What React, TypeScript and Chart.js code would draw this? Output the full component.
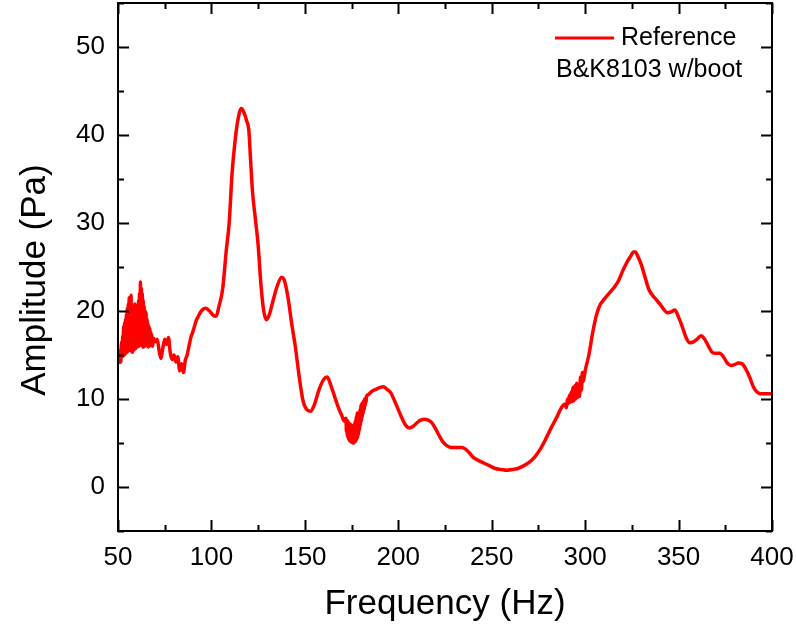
import React, { useEffect, useRef } from "react";
import { Chart, registerables } from "chart.js";

Chart.register(...registerables);

const FONT = "'Liberation Sans', Arial, sans-serif";

// Frequency (Hz) and amplitude (Pa)
const freqHz: number[] = [
  50.5, 51, 51.5, 51.75,
  52, 52.25, 52.5, 52.75, 53, 53.25, 53.5, 53.75, 54, 54.25, 54.5, 54.75, 55, 55.25, 55.5, 55.75,
  56, 56.25, 56.5, 56.75, 57, 57.25, 57.5, 57.75, 58, 58.25, 58.5, 58.75, 59, 59.25, 59.5, 59.75,
  60, 60.25, 60.5, 60.75, 61, 61.25, 61.5, 61.75, 62, 62.25, 62.5, 62.75, 63, 63.25, 63.5, 63.75,
  64, 64.25, 64.5, 64.75, 65, 65.25, 65.5, 65.75, 66, 66.25, 66.5, 66.75, 67, 67.25, 67.5, 67.75,
  68, 68.5, 69, 70, 71,
  72, 73, 74, 75, 76, 77, 78, 79, 80, 81, 82, 83, 84, 85, 86, 87, 88, 89, 90, 91,
  92, 93, 94, 95, 97, 99, 101, 102.5, 104, 106, 108, 109.5, 111, 112.5, 114, 116, 117.5, 119, 120, 121,
  122, 123.5, 125, 126.5, 128, 129.5, 131, 133, 135, 137.5, 139, 141, 143, 145, 147, 149, 151, 153, 155, 157.5,
  160, 162, 164, 166.5, 168, 170, 171,
  172, 172.25, 172.5, 172.75, 173, 173.25, 173.5, 173.75, 174, 174.25, 174.5, 174.75,
  175, 175.25, 175.5, 175.75, 176, 176.25, 176.5, 176.75, 177, 177.25, 177.5, 177.75,
  178, 178.25, 178.5, 178.75, 179, 179.25, 179.5, 179.75, 180, 180.25, 180.5, 180.75,
  181, 181.25, 181.5, 181.75, 182, 182.25, 182.5, 182.75, 183,
  184, 185, 186, 188, 190, 192, 194, 196, 198, 200, 202, 204, 206, 208, 210, 212, 214, 216, 218, 220,
  222, 224, 226, 228, 230, 232, 234, 236, 238, 240, 243, 246, 249, 252, 255, 258, 261, 264, 267, 270,
  273, 276, 279, 282, 285, 287, 289,
  290, 290.5, 291, 291.5, 292, 292.5, 293, 293.5, 294, 294.5, 295, 295.5, 296, 296.5, 297, 297.5, 298, 298.5, 299,
  300, 302, 304, 306, 308, 310, 312, 314, 316, 318, 320, 322, 324, 326, 327, 328, 330, 332, 334, 336,
  338, 340, 342, 344, 346, 348, 350, 352, 354, 356, 358, 360, 362, 364, 366, 368, 370, 372, 374, 376,
  378, 380, 382, 384, 386, 388, 390, 392, 394, 397, 400,
];

const amplitudePa: number[] = [
  14.0, 15.5, 14.2, 16.0,
  16.5, 14.8, 17.2, 14.9, 18.2, 15.0, 18.6, 15.1, 19.0, 15.2, 19.6, 15.3, 20.3, 15.4, 20.8, 15.5,
  21.5, 15.6, 21.0, 15.5, 21.8, 15.4, 20.4, 15.3, 19.5, 15.5, 20.1, 15.6, 20.8, 15.7, 19.9, 15.8,
  20.2, 15.9, 20.7, 16.0, 21.2, 16.0, 22.0, 16.1, 23.3, 16.2, 22.6, 16.1, 22.0, 15.9, 21.2, 15.9,
  20.5, 16.0, 20.0, 16.1, 19.8, 16.1, 19.1, 16.0, 18.6, 15.9, 18.3, 16.0, 18.0, 16.2, 17.6, 16.1,
  17.3, 16.0, 16.9, 16.5, 16.8,
  15.5, 14.6, 15.8, 16.8, 16.2, 17.0, 15.2, 14.5, 15.0, 14.2, 14.8, 13.2, 14.0, 13.0, 14.4, 15.0, 16.0, 17.0, 17.6, 18.3,
  19.0, 19.4, 19.8, 20.1, 20.3, 20.0, 19.5, 19.4, 20.5, 22.5, 27.0, 30.0, 35.5, 39.0, 41.5, 43.0, 42.5, 41.5, 40.6, 37.0,
  33.5, 30.5, 27.5, 23.0, 20.0, 19.0, 19.6, 21.2, 22.7, 23.8, 23.5, 21.5, 18.5, 15.8, 12.5, 9.8, 8.8, 8.6, 9.3, 11.0,
  12.2, 12.5, 11.5, 9.9, 9.0, 8.0, 7.5,
  7.8, 6.3, 7.6, 5.8, 7.5, 5.5, 7.3, 5.3, 7.2, 5.2, 7.1, 5.1,
  7.0, 5.1, 6.9, 5.0, 6.8, 5.0, 7.2, 5.1, 7.5, 5.2, 8.0, 5.4,
  8.4, 5.6, 8.3, 6.0, 8.2, 6.5, 8.8, 7.0, 9.3, 7.5, 9.5, 8.0,
  9.6, 8.4, 9.8, 8.8, 10.0, 9.2, 10.1, 9.6, 10.3,
  10.5, 10.7, 10.9, 11.1, 11.3, 11.4, 11.1, 10.7, 9.8, 8.8, 7.8, 7.0, 6.7, 6.9, 7.3, 7.6, 7.7, 7.6, 7.3, 6.6,
  5.8, 5.1, 4.7, 4.5, 4.5, 4.5, 4.5, 4.3, 3.9, 3.4, 3.0, 2.7, 2.4, 2.1, 2.0, 1.9, 2.0, 2.1, 2.4, 2.8,
  3.4, 4.3, 5.5, 6.8, 8.0, 8.9, 9.4,
  9.0, 10.0, 9.5, 10.4, 9.6, 10.8, 9.7, 11.3, 9.8, 11.5, 10.0, 11.8, 10.2, 11.6, 10.3, 12.5, 11.0, 13.0, 12.0,
  13.2, 15.0, 17.5, 19.5, 20.7, 21.3, 21.8, 22.3, 22.8, 23.5, 24.5, 25.4, 26.1, 26.7, 26.7, 26.3, 25.3, 23.9, 22.5, 21.8,
  21.3, 20.8, 20.2, 19.8, 19.9, 20.1, 19.3, 18.2, 17.0, 16.4, 16.5, 16.8, 17.2, 16.8, 16.0, 15.3, 15.2, 15.2, 14.8, 14.1,
  13.8, 13.9, 14.1, 14.0, 13.4, 12.5, 11.4, 10.8, 10.6, 10.6, 10.6,
];

const xTicks: number[] = [50, 100, 150, 200, 250, 300, 350, 400];
const xMinorTicks: number[] = [75, 125, 175, 225, 275, 325, 375];
const yTicks: number[] = [0, 10, 20, 30, 40, 50];
const yMinorTicks: number[] = [-5, 5, 15, 25, 35, 45, 55];

const seriesLabel = "Reference";
const noteLabel = "B&K8103 w/boot";
const xTitle = "Frequency (Hz)";
const yTitle = "Amplitude (Pa)";

const framePlugin = {
  id: "frame",
  afterDraw(chart: any) {
    const ctx = chart.ctx;
    const { left, right, top, bottom } = chart.chartArea;
    const xs = chart.scales.x;
    const ys = chart.scales.y;
    ctx.save();
    ctx.strokeStyle = "#000";
    ctx.lineWidth = 2;
    ctx.strokeRect(left, top, right - left, bottom - top);
    const major = 11;
    const minor = 6;
    ctx.beginPath();
    const xt = (v: number, len: number) => {
      const p = Math.round(xs.getPixelForValue(v)) + 0.5;
      ctx.moveTo(p, bottom);
      ctx.lineTo(p, bottom - len);
      ctx.moveTo(p, top);
      ctx.lineTo(p, top + len);
    };
    const yt = (v: number, len: number) => {
      const p = Math.round(ys.getPixelForValue(v)) + 0.5;
      ctx.moveTo(left, p);
      ctx.lineTo(left + len, p);
      ctx.moveTo(right, p);
      ctx.lineTo(right - len, p);
    };
    xTicks.forEach((v) => xt(v, major));
    xMinorTicks.forEach((v) => xt(v, minor));
    yTicks.forEach((v) => yt(v, major));
    yMinorTicks.forEach((v) => yt(v, minor));
    ctx.stroke();

    // axis titles
    ctx.fillStyle = "#000";
    ctx.font = `35px ${FONT}`;
    ctx.textAlign = "center";
    ctx.textBaseline = "middle";
    ctx.fillText(xTitle, (left + right) / 2, 604);
    ctx.save();
    ctx.translate(35, 280);
    ctx.rotate(-Math.PI / 2);
    ctx.fillText(yTitle, 0, 0);
    ctx.restore();

    // legend
    ctx.strokeStyle = "#ff0000";
    ctx.lineWidth = 3;
    ctx.beginPath();
    ctx.moveTo(555, 38);
    ctx.lineTo(614, 38);
    ctx.stroke();
    ctx.font = `25px ${FONT}`;
    ctx.textAlign = "left";
    ctx.textBaseline = "middle";
    ctx.fillText(seriesLabel, 621, 38);
    ctx.fillText(noteLabel, 556, 70);
    ctx.restore();
  },
};

const zeroPad = (s: any) => {
  s.paddingTop = 0;
  s.paddingBottom = 0;
  s.paddingLeft = 0;
  s.paddingRight = 0;
};

export default function App() {
  const ref = useRef<HTMLCanvasElement>(null);
  useEffect(() => {
    if (!ref.current) return;
    const points = freqHz.map((f, i) => ({ x: f, y: amplitudePa[i] }));
    const chart = new Chart(ref.current, {
      type: "line",
      data: {
        datasets: [
          {
            label: seriesLabel,
            data: points,
            borderColor: "#ff0000",
            backgroundColor: "#ff0000",
            borderWidth: 3.5,
            pointRadius: 0,
            cubicInterpolationMode: "monotone",
            fill: false,
          },
        ],
      },
      plugins: [framePlugin],
      options: {
        animation: false,
        responsive: false,
        devicePixelRatio: 1,
        layout: { padding: { left: 0, top: 3, right: 24, bottom: 0 } },
        plugins: { legend: { display: false }, tooltip: { enabled: false } },
        scales: {
          x: {
            type: "linear",
            min: 50,
            max: 400,
            grid: { display: false, drawTicks: false },
            border: { display: false },
            afterBuildTicks: (s: any) => {
              s.ticks = xTicks.map((v) => ({ value: v }));
            },
            afterFit: (s: any) => {
              s.height = 99;
              zeroPad(s);
            },
            ticks: {
              autoSkip: false,
              maxRotation: 0,
              padding: 11,
              color: "#000",
              font: { family: FONT, size: 26 },
            },
          },
          y: {
            type: "linear",
            min: -5,
            max: 55,
            grid: { display: false, drawTicks: false },
            border: { display: false },
            afterBuildTicks: (s: any) => {
              s.ticks = yTicks.map((v) => ({ value: v }));
            },
            afterFit: (s: any) => {
              s.width = 118;
              zeroPad(s);
            },
            ticks: {
              autoSkip: false,
              padding: 13,
              color: "#000",
              font: { family: FONT, size: 26 },
            },
          },
        },
      },
    });
    return () => chart.destroy();
  }, []);
  return (
    <div style={{ position: "fixed", left: 0, top: 0, width: 796, height: 630, background: "#fff" }}>
      <canvas ref={ref} width={796} height={630} style={{ width: 796, height: 630, display: "block" }} />
    </div>
  );
}
